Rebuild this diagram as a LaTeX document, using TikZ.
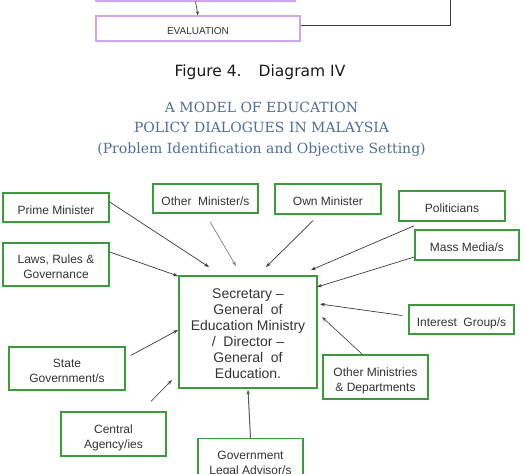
\documentclass[tikz,border=0pt]{standalone}
\usepackage{fontspec}
\setmainfont{Liberation Sans}
\newfontfamily\titlefont{DejaVu Serif}
\newfontfamily\capfont{DejaVu Sans}
\usetikzlibrary{arrows.meta,calc}
\definecolor{boxgreen}{HTML}{3C9A3C}
\definecolor{boxpurple}{HTML}{CFA3EE}
\definecolor{titleblue}{HTML}{4F6D98}
\definecolor{txtgray}{HTML}{333333}
\definecolor{arrgray}{HTML}{3A3A3A}
\newcommand\bt[1]{\raisebox{-3.5pt}[\height][\depth]{\begin{tabular}{@{}c@{}}#1\end{tabular}}}
\tikzset{
  gbox/.style={draw=boxgreen, line width=1.4pt, fill=white, text=txtgray, align=center, font=\fontsize{12}{15}\selectfont, inner sep=0pt},
  pbox/.style={draw=boxpurple, line width=1.3pt, text=txtgray, inner sep=0pt},
  conn/.style={draw=arrgray, line width=0.7pt, -{Stealth[length=5pt,width=3.5pt]}},
}
\begin{document}
\begin{tikzpicture}[x=1pt,y=-1pt]
\useasboundingbox (0,0) rectangle (525,474);
\begin{scope}
\clip (0,0) rectangle (525,474);
% top fragment
\node[pbox, minimum width=199pt, minimum height=30pt] (prev) at (195.5,-14) {};
\node[pbox, minimum width=204pt, minimum height=25pt, font=\fontsize{10}{12}\selectfont] (eval) at (198,28.5) {\bt{EVALUATION}};
\draw[draw=arrgray, line width=0.7pt, -{Stealth[length=4pt,width=3pt]}] (prev.south) -- (eval.north);
\coordinate (loopc) at (450,-2);
\draw[draw=arrgray, line width=0.8pt] ([yshift=3.5pt]eval.east) -| (loopc);
% caption and title
\node[font=\capfont\fontsize{15.5}{17}\selectfont, text=black!90] (cap) at (260,72) {Figure 4.\hspace{1.1em}Diagram IV};
\node[font=\titlefont\fontsize{14}{20.5}\selectfont, text=titleblue, align=center] (title) at (261.5,129) {A MODEL OF EDUCATION\\POLICY DIALOGUES IN MALAYSIA\\(Problem Identification and Objective Setting)};
% nodes
\node[gbox, minimum width=106pt, minimum height=29pt] (pm) at (56,207.5) {\bt{Prime Minister}};
\node[gbox, minimum width=106pt, minimum height=43pt] (laws) at (56,264.5) {\bt{Laws, Rules \&\\Governance}};
\node[gbox, minimum width=105pt, minimum height=29pt] (omin) at (205.5,198.5) {\bt{Other\ \ Minister/s}};
\node[gbox, minimum width=106pt, minimum height=30pt] (own) at (328,199) {\bt{Own Minister}};
\node[gbox, minimum width=106pt, minimum height=30pt] (pol) at (452,206) {\bt{Politicians}};
\node[gbox, minimum width=104pt, minimum height=30pt] (media) at (467,245) {\bt{Mass Media/s}};
\node[gbox, minimum width=105pt, minimum height=29pt] (interest) at (461.5,319.5) {\bt{Interest\ \ Group/s}};
\node[gbox, minimum width=105pt, minimum height=44pt] (omd) at (375.5,377) {\bt{Other Ministries\\\& Departments}};
\node[gbox, minimum width=138pt, minimum height=112pt, font=\fontsize{14}{16}\selectfont] (sec) at (248,332) {\bt{Secretary --\\General\ \ of\\Education Ministry\\/\ \ Director --\\General\ \ of\\Education.}};
\node[gbox, minimum width=116pt, minimum height=43pt] (state) at (67,368.5) {\bt{State\\Government/s}};
\node[gbox, minimum width=105pt, minimum height=44pt] (cent) at (113.5,434) {\bt{Central\\Agency/ies}};
\node[gbox, minimum width=105pt, minimum height=44pt, anchor=north] (legal) at (250.5,438) {\bt{Government\\Legal Advisor/s}};
% arrow tips
\coordinate (tpm) at (209,267);
\coordinate (tlaws) at (178,276);
\coordinate (tomin) at (236,266);
\coordinate (town) at (266,267);
\coordinate (tpol) at (311,270);
\coordinate (tmedia) at (317,287);
\coordinate (tint) at (320,304);
\coordinate (tomd) at (322,317);
\coordinate (tstate) at (178,330);
\coordinate (tcent) at (172,380);
% connectors
\draw[conn] ([yshift=5.5pt]pm.east) -- (tpm);
\draw[conn] ([yshift=12.5pt]laws.east) -- (tlaws);
\draw[conn, draw=gray] ($(omin.south)+(4.5,8)$) -- (tomin);
\draw[conn] ($(own.south)+(-15,6)$) -- (town);
\draw[conn] ($(pol.south west)+(16,4)$) -- (tpol);
\draw[conn] ($(media.west)+(0,12)$) -- (tmedia);
\draw[conn] ($(interest.west)+(-6,-4)$) -- (tint);
\draw[conn, draw=gray!60!black] ($(omd.north west)+(40,0)$) -- (tomd);
\draw[conn, draw=gray!70!black, line width=1pt] (legal.north) -- ([yshift=-1pt]sec.south);
\draw[conn] ($(state.east)+(5,-13)$) -- (tstate);
\draw[conn, draw=gray!60!black] ($(cent.north)+(37.5,-10)$) -- (tcent);
\end{scope}
\end{tikzpicture}
\end{document}
